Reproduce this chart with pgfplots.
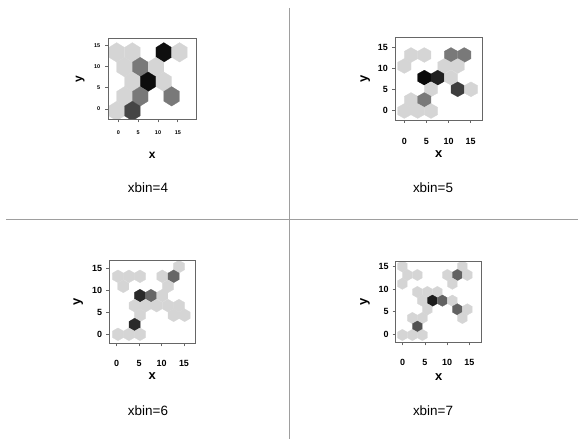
\documentclass[border=0pt]{standalone}
\usepackage{fontspec}
\setmainfont{Liberation Sans}
\usepackage{pgfplots}
\pgfplotsset{compat=1.18}
\usepgfplotslibrary{colormaps}

% pointy-top hexagon marks: #2 half width, #3 half height (vertex), #4 = #3/2
\newcommand\declarehex[4]{%
  \pgfdeclareplotmark{#1}{%
    \pgfpathmoveto{\pgfqpoint{0bp}{#3}}%
    \pgfpathlineto{\pgfqpoint{#2}{#4}}%
    \pgfpathlineto{\pgfqpoint{#2}{-#4}}%
    \pgfpathlineto{\pgfqpoint{0bp}{-#3}}%
    \pgfpathlineto{\pgfqpoint{-#2}{-#4}}%
    \pgfpathlineto{\pgfqpoint{-#2}{#4}}%
    \pgfpathclose\pgfusepathqfillstroke}}
\declarehex{hexA}{7.83bp}{9.78bp}{4.89bp}
\declarehex{hexB}{6.67bp}{7.47bp}{3.735bp}
\declarehex{hexC}{5.55bp}{6.44bp}{3.22bp}
\declarehex{hexD}{5.00bp}{5.72bp}{2.86bp}

\pgfplotstableread{
x y g
-0.42 13.42 0.83
3.54 13.42 0.83
11.46 13.42 0.06
15.42 13.42 0.83
1.56 9.94 0.83
5.52 9.94 0.47
9.48 9.94 0.83
3.54 6.47 0.83
7.50 6.47 0.05
11.46 6.47 0.83
1.56 3.00 0.83
5.52 3.00 0.47
13.44 3.00 0.47
-0.42 -0.47 0.83
3.54 -0.47 0.27
}\binfour

\pgfplotstableread{
x y g
1.51 13.25 0.83
4.52 13.25 0.83
10.55 13.25 0.47
13.56 13.25 0.47
0.00 10.63 0.83
9.04 10.63 0.83
12.06 10.63 0.83
4.52 7.86 0.04
7.54 7.86 0.13
10.55 7.86 0.83
6.03 5.08 0.83
12.06 5.08 0.24
15.07 5.08 0.83
1.51 2.54 0.83
4.52 2.54 0.47
0.00 -0.08 0.83
3.01 -0.08 0.83
6.03 -0.08 0.83
}\binfive

\pgfplotstableread{
x y g
13.88 15.30 0.83
0.30 13.11 0.83
2.75 13.11 0.83
5.20 13.11 0.83
10.17 13.11 0.83
12.69 13.11 0.40
1.48 10.85 0.83
11.43 10.85 0.83
5.20 8.74 0.16
7.65 8.74 0.40
10.17 8.74 0.83
4.01 6.48 0.83
6.46 6.48 0.83
8.91 6.48 0.83
11.43 6.48 0.83
13.88 6.48 0.83
5.20 4.30 0.83
12.69 4.30 0.83
15.14 4.30 0.83
4.01 2.19 0.16
0.30 0.00 0.83
2.75 0.00 0.83
5.20 0.00 0.83
}\binsix

\pgfplotstableread{
x y g
-0.08 15.00 0.83
13.43 15.00 0.83
1.05 13.09 0.83
3.30 13.09 0.83
10.05 13.09 0.83
12.30 13.09 0.38
14.55 13.09 0.83
-0.08 11.18 0.83
11.18 11.18 0.83
3.30 9.34 0.83
5.55 9.34 0.83
7.80 9.34 0.83
4.43 7.43 0.83
6.68 7.43 0.11
8.93 7.43 0.38
11.18 7.43 0.83
5.55 5.51 0.83
12.30 5.51 0.38
14.55 5.51 0.83
2.18 3.60 0.83
4.43 3.60 0.83
13.43 3.60 0.83
3.30 1.69 0.32
-0.08 -0.15 0.83
2.18 -0.15 0.83
4.43 -0.15 0.83
}\binseven

\pgfplotsset{
  hexax/.style={
    scale only axis, anchor=south west, axis on top,
    clip marker paths=true,
    tick align=outside, tick pos=left,
    xtick={0,5,10,15}, ytick={0,5,10,15},
    minor tick num=0,
    major tick length=3bp,
    axis line style={black!60, line width=0.8bp},
    every tick/.append style={black!60, line width=0.8bp},
    /pgf/number format/assume math mode=true,
    xticklabel style={anchor=center, inner sep=0pt},
    yticklabel style={anchor=east, inner sep=0pt, xshift=-4bp},
    xlabel style={anchor=center, inner sep=0pt, font=\bfseries\fontsize{13}{13}\selectfont},
    ylabel style={anchor=center, inner sep=0pt, font=\bfseries\fontsize{13}{13}\selectfont},
    xlabel={x}, ylabel={y},
    colormap/blackwhite, point meta min=0, point meta max=1,
  },
  hexplot/.style={scatter, only marks, mark=#1, mark options={line width=0.2bp},
    point meta=explicit,
    scatter/use mapped color={draw=mapped color, fill=mapped color}},
}

\begin{document}
\begin{tikzpicture}
\useasboundingbox (0bp,0bp) rectangle (578bp,439bp);
% divider lines
\draw[black!38, line width=1.6bp] (289.5bp,431bp) -- (289.5bp,0bp);
\draw[black!38, line width=1.6bp] (6bp,219.3bp) -- (578bp,219.3bp);

% panel 1: xbin=4
\begin{axis}[hexax, at={(108.3bp,319.7bp)}, width=87.7bp, height=81bp,
  xmin=-2.52, xmax=19.57, ymin=-2.44, ymax=16.75,
  ticklabel style={font=\bfseries\fontsize{5.5}{6}\selectfont},
  xticklabel style={yshift=-10.7bp},
  yticklabel style={xshift=-1bp},
  xlabel style={at={([yshift=-35.7bp]axis description cs:0.5,0)}, font=\bfseries\fontsize{12}{12}\selectfont},
  ylabel style={at={([xshift=-28bp]axis description cs:0,0.5)}, font=\bfseries\fontsize{12}{12}\selectfont}]
\addplot[hexplot=hexA] table[x=x, y=y, meta=g] {\binfour};
\end{axis}

% panel 2: xbin=5
\begin{axis}[hexax, at={(395bp,319bp)}, width=87.3bp, height=82.7bp,
  xmin=-2.11, xmax=17.63, ymin=-2.22, ymax=17.46,
  ticklabel style={font=\bfseries\fontsize{9}{9}\selectfont},
  xticklabel style={yshift=-18.3bp},
  xlabel style={at={([yshift=-34.3bp]axis description cs:0.5,0)}},
  ylabel style={at={([xshift=-29.7bp]axis description cs:0,0.5)}}]
\addplot[hexplot=hexB] table[x=x, y=y, meta=g] {\binfive};
\end{axis}

% panel 3: xbin=6
\begin{axis}[hexax, at={(109.3bp,95.7bp)}, width=85.7bp, height=83.3bp,
  xmin=-1.63, xmax=17.45, ymin=-2.03, ymax=16.8,
  ticklabel style={font=\bfseries\fontsize{9}{9}\selectfont},
  xticklabel style={yshift=-16.7bp},
  xlabel style={at={([yshift=-32.7bp]axis description cs:0.5,0)}},
  ylabel style={at={([xshift=-31bp]axis description cs:0,0.5)}}]
\addplot[hexplot=hexC] table[x=x, y=y, meta=g] {\binsix};
\end{axis}

% panel 4: xbin=7
\begin{axis}[hexax, at={(395.7bp,96.7bp)}, width=86bp, height=80.6bp,
  xmin=-1.58, xmax=17.78, ymin=-1.76, ymax=16.03,
  ticklabel style={font=\bfseries\fontsize{9}{9}\selectfont},
  xticklabel style={yshift=-17bp},
  xlabel style={at={([yshift=-34.4bp]axis description cs:0.5,0)}},
  ylabel style={at={([xshift=-30.7bp]axis description cs:0,0.5)}}]
\addplot[hexplot=hexD] table[x=x, y=y, meta=g] {\binseven};
\end{axis}

% captions
\node[font=\fontsize{13.5}{14}\selectfont] at (148bp,251.5bp) {xbin=4};
\node[font=\fontsize{13.5}{14}\selectfont] at (433bp,251.5bp) {xbin=5};
\node[font=\fontsize{13.5}{14}\selectfont] at (148bp,28bp) {xbin=6};
\node[font=\fontsize{13.5}{14}\selectfont] at (433bp,28bp) {xbin=7};
\end{tikzpicture}
\end{document}
